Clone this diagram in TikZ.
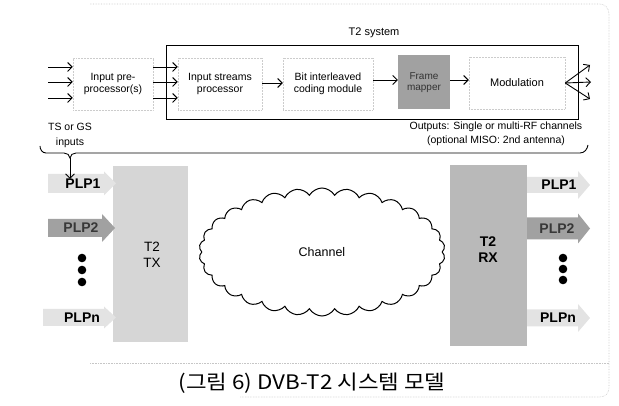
\documentclass[tikz,border=0pt]{standalone}
\usepackage{fontspec}
\setmainfont{Liberation Sans}
\newfontfamily\krfont[FakeStretch=1.12]{Noto Sans CJK KR}
\usetikzlibrary{arrows.meta,shapes.symbols}

% block arrow: style, x start, x head start, x tip, y centre, half shaft, half head
\newcommand{\plpshape}[7]{%
  \fill[#1] (#2,#5-#6) -- (#3,#5-#6) -- (#3,#5-#7) -- (#4,#5)
    -- (#3,#5+#7) -- (#3,#5+#6) -- (#2,#5+#6) -- cycle;}

\begin{document}
\begin{tikzpicture}[x=1pt,y=-1pt,
  lbl/.style={font=\fontsize{10.5}{12.5}\selectfont, align=center, inner sep=0pt},
  fbox/.style={draw=gray!40, densely dotted, line width=0.5pt, minimum height=52pt,
               font=\fontsize{10.5}{12.5}\selectfont, align=center, inner sep=0pt},
  arr/.style={-{Straight Barb[length=4.5pt,width=9pt,line width=0.9pt]}, line width=0.9pt},
  plptxt/.style={font=\fontsize{14}{14}\selectfont\bfseries, inner sep=0pt},
  big/.style={font=\fontsize{13.5}{15.5}\selectfont, align=center, inner sep=0pt},
  lightarr/.style={fill=gray!22},
  darkarr/.style={fill=gray!74},
  scanline/.style={draw=gray!45, densely dotted, line width=0.6pt}]

\useasboundingbox (0,0) rectangle (619,406);

% faint frame of the figure
\draw[scanline] (90,4) -- (600,4) to[out=0,in=90] (609,14) -- (609,388)
  to[out=-90,in=0] (600,397) -- (240,397);
\draw[scanline] (90,363) -- (609,363);

% ---- T2 system chain ----
\node[draw, line width=1pt, minimum width=412pt, minimum height=74pt, inner sep=0pt]
  (t2) at (372,83) {};
\node[lbl, font=\fontsize{11}{13}\selectfont] (t2lbl) at (374,33) {T2 system};

\node[fbox, minimum width=80pt] (pre) at (113,84) {Input pre-\\processor(s)};
\node[fbox, minimum width=84pt] (isp) at (220,84) {Input streams\\processor};
\node[fbox, minimum width=90pt] (bicm) at (328,84) {Bit interleaved\\coding module};
\node[fill=gray!74, minimum width=52pt, minimum height=54pt, inner sep=0pt,
      text=black!80, font=\fontsize{10}{11.5}\selectfont, align=center]
  (fm) at (424,82.5) {Frame\\mapper};
\node[fbox, minimum width=96pt, font=\fontsize{11}{13}\selectfont] (mod) at (517,83) {Modulation};

% input streams
\foreach \i/\yy in {1/67,2/82,3/98}{
  \coordinate (in\i) at (48,\yy);
  \coordinate (mid\i) at (153,\yy);
  \draw[arr] (in\i) -- (in\i -| pre.west);
  \draw[arr] (mid\i) -- (mid\i -| isp.west);
}
\draw[arr] (isp.east |- 0,83) -- (bicm.west |- 0,83);
\draw[arr] (bicm.east |- 0,80) -- (fm.west |- 0,80);
\draw[arr] (fm.east |- 0,80) -- (mod.west |- 0,80);

% outputs to antennas
\coordinate (o1) at (590,65);
\coordinate (o2) at (591,82);
\coordinate (o3) at (590,99);
\draw[arr] (mod.east) -- (o1);
\draw[arr] (mod.east) -- (o2);
\draw[arr] (mod.east) -- (o3);

\node[lbl, font=\fontsize{10.5}{14}\selectfont] (outl) at (496,134)
  {Outputs: Single or multi-RF channels\\(optional MISO: 2nd antenna)};
\node[lbl, font=\fontsize{10.5}{15}\selectfont] (tsgs) at (70,135.5) {TS or GS\\inputs};

% brace
\coordinate (btip) at (70,158);
\draw[line width=0.9pt] (40,146) to[out=-90,in=180] (46,153) -- (64,153)
  to[out=0,in=90] (btip) to[out=90,in=180] (76,153) -- (580,153)
  to[out=0,in=-100] (588,145);

% ---- transmitter ----
\fill[gray!32] (113,166) rectangle (188,342);
\node[big] (tx) at (152,255) {T2\\TX};

\plpshape{lightarr}{48}{104}{116}{183.5}{9.5}{12}
\node[plptxt] (plp1l) at (83,184) {PLP1};
\plpshape{darkarr}{48}{102}{115}{228}{9}{14}
\node[plptxt, text=black!78] (plp2l) at (81,228) {PLP2};
\plpshape{lightarr}{43}{104}{116}{317.5}{8.5}{11}
\node[plptxt] (plpnl) at (82,318) {PLPn};
\foreach \yy in {258,270,282} \fill (82,\yy) circle (4.3pt);

\draw[arr] (btip) -- (btip |- plp1l.north);

% ---- channel ----
\node[cloud, draw, line width=1pt, cloud puffs=30, cloud puff arc=120, aspect=1.9,
      minimum width=246pt, minimum height=128pt, inner sep=0pt,
      font=\fontsize{12.5}{14}\selectfont] (ch) at (322,252) {Channel};

% ---- receiver ----
\fill[gray!55] (450,165) rectangle (527,346);
\node[big, font=\fontsize{14}{16}\selectfont\bfseries] (rx) at (488,250) {T2\\RX};

\plpshape{lightarr}{527}{578}{590}{185}{8}{14}
\node[plptxt] (plp1r) at (559,185) {PLP1};
\plpshape{darkarr}{527}{578}{590}{228.5}{11}{15}
\node[plptxt, text=black!78] (plp2r) at (557,228.5) {PLP2};
\plpshape{lightarr}{527}{578}{590}{318}{8.5}{14}
\node[plptxt] (plpnr) at (558,318) {PLPn};
\foreach \yy in {258,269,280} \fill (563,\yy) circle (4.3pt);

% ---- caption ----
\node[font=\krfont\fontsize{20}{20}\selectfont, inner sep=0pt] (cap) at (312,383)
  {(그림 6) DVB-T2 시스템 모델};
\end{tikzpicture}
\end{document}
